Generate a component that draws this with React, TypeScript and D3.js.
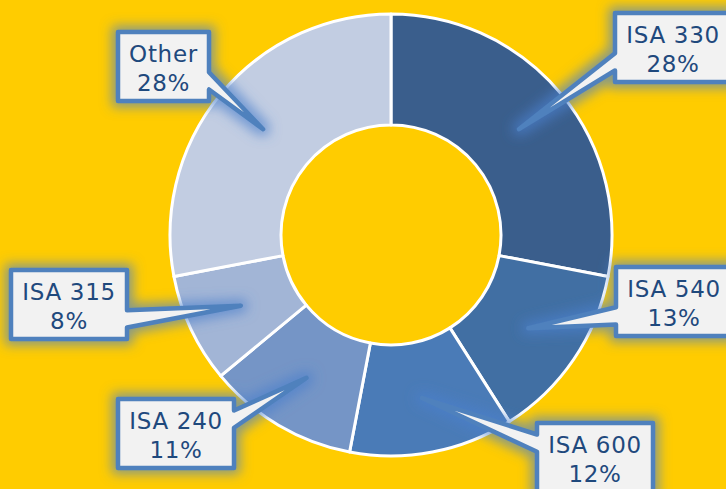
import React from "react";
import * as d3 from "d3";

const categories = ["ISA 330", "ISA 540", "ISA 600", "ISA 240", "ISA 315", "Other"];
const values = [28, 13, 12, 11, 8, 28];
const percentLabels = ["28%", "13%", "12%", "11%", "8%", "28%"];
const sliceColors = ["#3a5e8c", "#416fa3", "#4a7bb7", "#7595c6", "#a2b5d6", "#c2cde2"];
// callout box top-left positions (layout)
const boxPos: [number, number][] = [
  [615, 13],
  [616, 267],
  [537, 423],
  [118, 399],
  [11, 270],
  [118, 32],
];

const W = 726;
const H = 489;
const CX = 391;
const CY = 235;
const R_OUT = 221;
const R_IN = 110;
const FONT = "DejaVu Sans, Verdana, sans-serif";
const FS = 23;
const LS = 0.7;
const BOX_H = 69;

let ctx: CanvasRenderingContext2D | null = null;
function textW(s: string): number {
  if (!ctx && typeof document !== "undefined") {
    ctx = document.createElement("canvas").getContext("2d");
  }
  if (ctx) {
    ctx.font = `${FS}px DejaVu Sans`;
    return ctx.measureText(s).width + LS * s.length;
  }
  return s.length * FS * 0.62;
}

function calloutPath(x: number, y: number, w: number, h: number, tx: number, ty: number) {
  const l = x, t = y, r = x + w, b = y + h;
  const cx = x + w / 2, cy = y + h / 2;
  const dx = tx - cx, dy = ty - cy;
  const dq = (dx * h) / w;
  const xg1 = dx > 0 ? 7 : 2, xg2 = dx > 0 ? 10 : 5;
  const yg1 = dy > 0 ? 7 : 2, yg2 = dy > 0 ? 10 : 5;
  const x1 = l + (w * xg1) / 12, x2 = l + (w * xg2) / 12;
  const y1 = t + (h * yg1) / 12, y2 = t + (h * yg2) / 12;
  const p = d3.path();
  if (Math.abs(dy) > Math.abs(dq)) {
    if (dy < 0) {
      p.moveTo(l, t); p.lineTo(x1, t); p.lineTo(tx, ty); p.lineTo(x2, t);
      p.lineTo(r, t); p.lineTo(r, b); p.lineTo(l, b); p.closePath();
    } else {
      p.moveTo(l, t); p.lineTo(r, t); p.lineTo(r, b); p.lineTo(x2, b);
      p.lineTo(tx, ty); p.lineTo(x1, b); p.lineTo(l, b); p.closePath();
    }
  } else {
    if (dx < 0) {
      p.moveTo(l, t); p.lineTo(r, t); p.lineTo(r, b); p.lineTo(l, b);
      p.lineTo(l, y2); p.lineTo(tx, ty); p.lineTo(l, y1); p.closePath();
    } else {
      p.moveTo(l, t); p.lineTo(r, t); p.lineTo(r, y1); p.lineTo(tx, ty);
      p.lineTo(r, y2); p.lineTo(r, b); p.lineTo(l, b); p.closePath();
    }
  }
  return p.toString();
}

export default function App() {
  const pie = d3.pie<number>().sort(null).value((d) => d);
  const arcs = pie(values);
  const arc = d3.arc<d3.PieArcDatum<number>>().innerRadius(R_IN).outerRadius(R_OUT);
  const labelArc = d3
    .arc<d3.PieArcDatum<number>>()
    .innerRadius(R_IN + 0.5)
    .outerRadius(R_OUT + 0.5);

  return (
    <svg
      width={W}
      height={H}
      style={{ position: "absolute", left: 0, top: 0, display: "block" }}
    >
      <defs>
        <filter id="glow" x="-30%" y="-30%" width="160%" height="160%">
          <feMorphology in="SourceAlpha" operator="dilate" radius="4" result="d" />
          <feGaussianBlur in="d" stdDeviation="6" result="b" />
          <feFlood floodColor="#4a7fcc" floodOpacity="0.65" />
          <feComposite in2="b" operator="in" result="g" />
          <feMerge>
            <feMergeNode in="g" />
            <feMergeNode in="SourceGraphic" />
          </feMerge>
        </filter>
      </defs>
      <rect x={0} y={0} width={W} height={H} fill="#ffcc00" />
      <g transform={`translate(${CX},${CY})`}>
        {arcs.map((a, i) => (
          <path
            key={categories[i]}
            d={arc(a) || ""}
            fill={sliceColors[i]}
            stroke="#ffffff"
            strokeWidth={3}
            strokeLinejoin="round"
          />
        ))}
      </g>
      {arcs.map((a, i) => {
        const [cxo, cyo] = labelArc.centroid(a);
        const tx = CX + cxo;
        const ty = CY + cyo;
        const [bx, by] = boxPos[i];
        const w = Math.round(Math.max(textW(categories[i]), textW(percentLabels[i])) + 22);
        const mid = bx + w / 2;
        return (
          <g key={"lab" + categories[i]}>
            <path
              d={calloutPath(bx, by, w, BOX_H, tx, ty)}
              fill="#f2f2f2"
              stroke="#4f81bd"
              strokeWidth={4.5}
              strokeLinejoin="round"
              filter="url(#glow)"
            />
            <text
              x={mid}
              y={by + 29.5}
              textAnchor="middle"
              fontFamily={FONT}
              fontSize={FS}
              letterSpacing={LS}
              fill="#1f497d"
            >
              {categories[i]}
            </text>
            <text
              x={mid}
              y={by + 59}
              textAnchor="middle"
              fontFamily={FONT}
              fontSize={FS}
              letterSpacing={LS}
              fill="#1f497d"
            >
              {percentLabels[i]}
            </text>
          </g>
        );
      })}
    </svg>
  );
}
